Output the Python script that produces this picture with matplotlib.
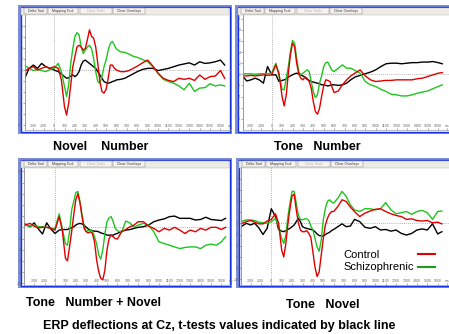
import matplotlib
matplotlib.use('Agg')
import matplotlib.pyplot as plt
from matplotlib.patches import Rectangle

plt.rcParams['font.family'] = ['Liberation Sans', 'DejaVu Sans']

# time axis (ms) shared by all traces
times = [-290, -240, -200, -160, -120, -80, -40, 0, 40, 70,
         100, 120, 140, 160, 180, 200, 220, 240, 260, 280, 300, 320, 340,
         360, 380, 400, 420, 440, 460, 480, 500, 520, 540, 560, 580, 600,
         640, 680, 720, 760, 800,
         850, 900, 950, 1000, 1050, 1100, 1150, 1200, 1250, 1300, 1350,
         1400, 1450, 1500, 1550, 1600, 1640]

# Novel / Number
nn_control = [-0.3, 0.3, 0.6, 0.0, 0.3, 0.6, 0.3, 0.6, 0.3, -1.8,
              -6.7, -8.2, -6.0, -2.7, 0.6, 2.4, 4.2, 4.5, 4.2, 3.6, 3.9, 5.5, 7.3,
              6.1, 5.8, 4.2, 1.2, -2.1, -3.9, -4.2, -3.5, -1.5, 0.9, 0.9, 0.3, 0.0,
              -0.3, -0.3, -0.1, 0.3, 0.7,
              1.3, 1.8, 0.7, -0.6, -1.5, -1.9, -2.1, -1.5, -1.7, -1.5, -1.9,
              -0.9, -1.7, -1.2, -1.1, -0.1, -1.5]
nn_schizo = [0.9, 0.3, -0.1, 0.1, -0.1, -0.3, 0.1, 0.3, 1.2, -0.3,
             -3.0, -4.8, -2.7, 1.2, 3.9, 6.1, 6.8, 6.4, 4.2, 3.0, 3.6, 4.2, 4.5,
             3.9, 2.1, -0.3, -2.1, -2.4, -1.2, 0.6, 1.8, 3.6, 4.8, 5.2, 4.5, 3.8,
             3.3, 3.2, 2.9, 2.5, 2.3,
             1.9, 1.5, 0.6, -0.6, -1.7, -2.1, -2.4, -2.9, -3.6, -2.4, -3.9,
             -3.3, -3.2, -2.5, -2.9, -2.7, -2.9]
nn_ttest = [-1.8, 0.3, 0.9, 0.3, 1.2, 0.6, 0.3, 0.0, -0.3, -0.7,
            -1.2, -1.5, -1.4, -1.1, -0.9, -1.2, -0.9, -0.3, 0.9, 1.6, 1.8, 1.5, 1.2,
            0.9, 0.6, 0.3, -0.3, -0.9, -1.5, -2.1, -2.3, -2.4, -2.3, -2.1, -2.0, -1.8,
            -1.7, -1.5, -1.1, -0.7, -0.3,
            0.1, 0.3, 0.3, -0.1, 0.1, 0.3, 0.6, 0.9, 1.1, 1.3, 0.9,
            1.5, 1.2, 1.3, 1.5, 1.8, 0.9]

# Tone / Number
tn_control = [-0.3, -0.3, -0.2, -0.3, -0.2, -0.1, -0.2, -0.1, 1.7, 0.2,
              -4.0, -5.7, -3.7, 0.2, 3.5, 5.6, 5.0, 2.0, 0.1, -0.7, -1.0, -0.5, -0.7,
              -1.3, -2.5, -4.9, -6.7, -7.2, -6.1, -4.0, -2.1, -1.0, -1.1, -1.3, -2.3, -3.3,
              -3.0, -1.9, -1.0, -0.3, 0.2,
              0.8, -0.3, -1.0, -1.3, -1.2, -1.1, -1.1, -1.0, -1.0, -1.0, -1.0,
              -0.8, -0.7, -0.4, -0.1, 0.2, 0.3]
tn_schizo = [0.1, 0.1, 0.1, 0.0, 0.1, 0.1, 0.1, 0.2, 2.0, -0.3,
             -2.7, -2.8, -0.7, 1.4, 4.1, 6.1, 5.6, 2.9, 0.5, -0.1, 0.2, 0.5, 0.8,
             0.5, -1.3, -3.1, -4.2, -3.7, -1.6, -0.3, 1.4, 2.1, 2.2, 1.4, 0.7, 0.5,
             1.1, 1.7, 1.1, 1.1, 0.7,
             0.2, -1.3, -1.9, -2.2, -2.7, -3.1, -3.6, -3.7, -3.9, -3.9, -3.7,
             -3.4, -3.2, -3.0, -2.6, -2.2, -1.9]
tn_ttest = [-0.1, -1.2, -1.0, -0.7, -1.0, -1.6, 1.4, -0.1, -0.1, -1.3,
            -1.1, -1.0, -0.8, -0.5, -0.3, -0.1, 0.1, 0.2, 0.1, -0.1, -0.3, -0.5, -0.9,
            -1.1, -1.3, -1.4, -1.5, -1.6, -1.7, -1.9, -1.9, -2.0, -2.1, -2.0, -1.9, -1.9,
            -2.0, -1.9, -1.6, -1.0, -0.5,
            -0.2, 0.1, 0.4, 0.8, 1.4, 1.9, 2.0, 2.0, 1.9, 2.0, 2.1,
            2.1, 2.2, 2.2, 2.3, 2.1, 1.9]

# Tone / Number + Novel
tnn_control = [0.4, 0.7, 0.2, -0.1, 0.0, 0.0, -0.2, -0.5, 1.9, -0.5,
               -5.5, -6.0, -3.5, -0.8, 2.2, 4.9, 6.0, 4.4, 1.9, -0.2, -0.8, -1.0, -0.8,
               -1.1, -2.6, -5.8, -7.9, -9.1, -9.4, -7.6, -4.0, -2.0, -1.4, -1.7, -2.0, -2.1,
               -0.8, -0.4, 0.1, 0.4, 1.0,
               1.0, 0.2, -0.2, -0.8, -0.2, -0.5, 0.0, -0.5, -1.1, -0.5, -0.8,
               -0.2, -0.5, 0.0, 0.0, -0.4, 0.0]
tnn_schizo = [0.4, 0.2, 0.4, 0.1, 0.1, 0.0, -0.2, -0.2, 2.4, -0.2,
              -2.9, -3.2, -0.8, 3.1, 4.6, 6.2, 6.4, 4.6, 2.2, 0.1, -0.7, -0.6, -0.5,
              -0.7, -1.7, -2.9, -4.9, -5.7, -4.0, -1.1, 1.0, 1.7, 1.9, 1.0, -0.2, -0.6,
              -0.9, 1.1, 0.8, 0.0, 0.4,
              0.7, 0.4, -0.8, -2.6, -2.9, -3.2, -3.5, -3.8, -3.6, -3.5, -3.5,
              -3.8, -3.2, -3.0, -3.2, -2.6, -1.7]
tnn_ttest = [0.6, 0.1, 0.8, -0.3, -1.2, 0.8, -0.3, -1.1, -0.5, -0.4,
             -0.4, -0.4, -0.2, -0.1, 0.1, 0.4, 0.6, 0.7, 0.6, 0.4, 0.0, -0.3, -0.5,
             -0.6, -0.7, -0.7, -0.8, -1.0, -1.1, -1.2, -1.4, -1.4, -1.4, -1.4, -1.2, -1.1,
             -0.7, -0.5, -0.4, -0.2, 0.0,
             0.1, 0.4, 1.0, 1.3, 1.5, 1.9, 2.0, 1.6, 1.6, 1.6, 1.3,
             1.4, 1.8, 1.4, 1.3, 1.2, 1.6]

# Tone / Novel
tv_control = [-0.1, 0.3, 0.5, 0.2, -0.1, -0.1, 0.4, 0.7, 1.7, 0.0,
              -4.8, -6.0, -3.6, -0.1, 2.7, 4.9, 5.2, 2.4, 0.1, -1.2, -1.5, -1.5, -1.3,
              -1.8, -2.5, -5.1, -7.8, -9.5, -8.7, -5.7, -2.7, -0.3, 0.9, 1.7, 2.1, 2.1,
              3.0, 4.2, 3.9, 2.9, 2.1,
              1.2, 1.8, 2.2, 2.5, 2.6, 2.1, 1.7, 1.4, 1.2, 0.7, 0.8,
              0.5, 0.4, 0.5, 0.1, 0.2, -0.1]
tv_schizo = [0.3, 0.6, 0.6, 0.5, 0.2, 0.1, 0.0, 0.3, 0.9, -0.5,
             -2.7, -3.6, -2.1, 1.2, 3.7, 5.7, 5.7, 3.6, 1.5, 0.7, 0.6, 0.8, 0.8,
             0.5, -0.5, -1.2, -2.7, -4.2, -5.0, -3.0, 0.6, 2.7, 3.9, 4.2, 3.8, 3.6,
             4.5, 5.7, 4.8, 3.3, 2.4,
             2.1, 2.6, 2.6, 2.4, 2.6, 3.7, 2.4, 1.7, 1.9, 2.1, 1.6,
             2.1, 2.3, 1.9, 0.7, 2.1, 2.2]
tv_ttest = [-0.6, 0.0, -0.3, 0.0, -0.8, -2.0, -0.9, 2.6, 1.2, -1.1,
            -1.4, -1.5, -1.3, -1.1, -0.9, -0.6, -0.3, 0.3, 0.9, 0.3, -0.6, -0.8, -0.9,
            -1.0, -1.1, -1.2, -1.5, -1.9, -2.2, -2.2, -2.3, -2.0, -1.8, -1.6, -1.3, -1.1,
            -0.6, -0.1, -0.6, -0.5, 0.7,
            0.3, -0.7, -0.9, -0.6, -1.2, -1.1, -1.4, -1.2, -1.8, -2.1, -1.8,
            -1.2, -1.0, -1.2, -0.1, -1.9, -1.5]

x_ticks = [-200, -100, 0, 100, 200, 300, 400, 500, 600, 700, 800, 900,
           1000, 1100, 1200, 1300, 1400, 1500, 1600, 1690]
x_labels = ['-200', '-100', '0', '100', '200', '300', '400', '500', '600', '700',
            '800', '900', '1000', '1100', '1200', '1300', '1400', '1500', '1600', 'ms']
buttons = ['Delta Tool', 'Mapping Tool', 'Clear Tools', 'Clear Overlays']
captions = ['Novel    Number', 'Tone   Number', 'Tone   Number + Novel', 'Tone   Novel']

W, H = 449, 334
PX_MS = 0.104   # pixels per ms

fig = plt.figure(figsize=(W / 100, H / 100), dpi=100)
bg = fig.add_axes([0, 0, 1, 1])
bg.set_xlim(0, W)
bg.set_ylim(H, 0)
bg.axis('off')

panels = [
    dict(frame=(18, 5, 232, 134), box=(25, 15, 231, 129.5), x0=54.1, y0=70.0, ppu=5.5,
         traces=(nn_ttest, nn_schizo, nn_control), cap=(53, 147)),
    dict(frame=(235, 5, 456, 134), box=(243, 15, 449, 129.5), x0=271.7, y0=74.3, ppu=5.55,
         traces=(tn_ttest, tn_schizo, tn_control), cap=(274, 147)),
    dict(frame=(18, 158, 232, 288), box=(24, 168, 231, 284.5), x0=55.0, y0=227.3, ppu=5.6,
         traces=(tnn_ttest, tnn_schizo, tnn_control), cap=(26, 303)),
    dict(frame=(236, 158, 456, 288), box=(241, 167, 449, 284.5), x0=271.3, y0=223.3, ppu=5.6,
         traces=(tv_ttest, tv_schizo, tv_control), cap=(286, 305)),
]
btn_pos = [(6, 29), (30, 60), (62, 94), (95, 127)]
colors = ['black', '#1fc41f', '#e00000']

for i, p in enumerate(panels):
    l, t, r, b = p['frame']
    bg.add_patch(Rectangle((l, t), r - l, b - t, facecolor='#7f8dd6', edgecolor='none'))
    bg.add_patch(Rectangle((l + 2.5, t + 2), r - l - 5, b - t - 4.5, facecolor='white',
                           edgecolor='#1434e6', lw=1.0))
    bg.add_patch(Rectangle((l + 3, t + 2.5), r - l - 6, 7.5, facecolor='#ecebe4',
                           edgecolor='#b4b4b4', lw=0.3))
    for (a, z), name in zip(btn_pos, buttons):
        bg.add_patch(Rectangle((l + a, t + 3.3), z - a, 6, facecolor='#f4f3ee',
                               edgecolor='#8c8c8c', lw=0.35))
        bg.text(l + (a + z) / 2, t + 6.4, name, fontsize=2.6, ha='center', va='center',
                color='#b0b0b0' if name == 'Clear Tools' else '#333333')
    bg.text(p['cap'][0], p['cap'][1], captions[i], fontsize=9, fontweight='bold',
            ha='left', va='center')

    bl, bt, br, bb = p['box']
    ax = fig.add_axes([bl / W, 1 - bb / H, (br - bl) / W, (bb - bt) / H])
    ax.set_facecolor('none')
    ax.set_xlim((bl - p['x0']) / PX_MS, (br - p['x0']) / PX_MS)
    lo, hi = (p['y0'] - bb) / p['ppu'], (p['y0'] - bt) / p['ppu']
    ax.set_ylim(lo, hi)
    ax.axhline(0, color='#9a9a9a', ls=(0, (1, 1.5)), lw=0.6)
    ax.axvline(0, color='#9a9a9a', ls=(0, (1, 1.5)), lw=0.6)
    for vals, c in zip(p['traces'], colors):
        ax.plot(times, vals, color=c, lw=1.0, solid_joinstyle='round')
    for s in ['top', 'right']:
        ax.spines[s].set_visible(False)
    ax.spines['left'].set_color('#8a8a8a')
    ax.spines['left'].set_linewidth(0.6)
    ax.spines['bottom'].set_color('#a0a0a0')
    ax.spines['bottom'].set_linewidth(0.5)
    ax.set_yticks([v for v in range(-10, 11, 2) if lo <= v <= hi - 0.5])
    ax.set_yticklabels([str(v) for v in range(-10, 11, 2) if lo <= v <= hi - 0.5])
    ax.set_xticks(x_ticks, x_labels)
    ax.tick_params(axis='y', labelsize=2.5, length=1.2, width=0.4, pad=0.6,
                   colors='#666666')
    ax.tick_params(axis='x', direction='in', labelsize=2.5, length=1.2, width=0.4,
                   pad=-4.2, colors='#666666')

# legend drawn inside the Tone / Novel panel
bg.text(343, 255, 'Control', fontsize=8, ha='left', va='center')
bg.text(343, 266.5, 'Schizophrenic', fontsize=8, ha='left', va='center')
bg.plot([418, 435], [253.5, 253.5], color='#e00000', lw=1.5)
bg.plot([418, 435], [266.5, 266.5], color='#1a9e1a', lw=1.5)

bg.text(219, 326, 'ERP deflections at Cz, t-tests values indicated by black line',
        fontsize=9, fontweight='bold', ha='center', va='center')

fig.savefig('out.png', dpi=100)
